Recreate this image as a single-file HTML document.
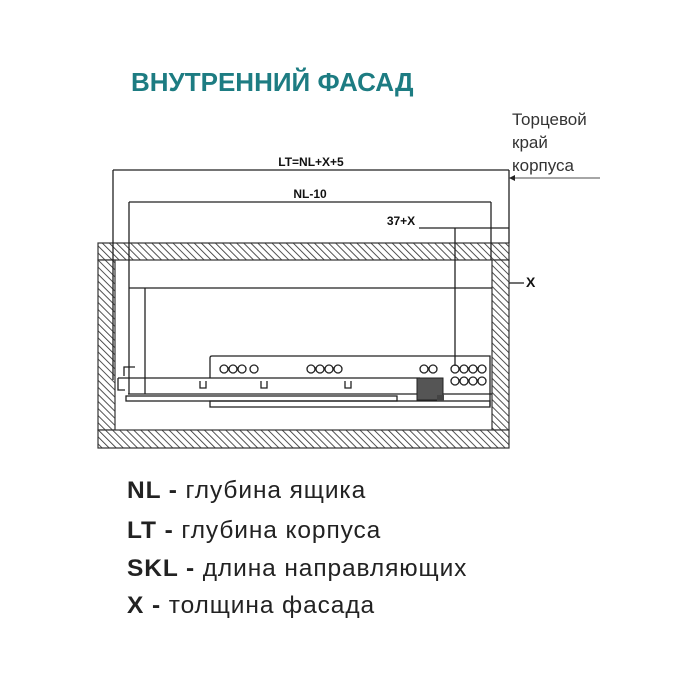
<!DOCTYPE html>
<html><head><meta charset="utf-8"><style>
body{margin:0;background:#fff;width:700px;height:700px;overflow:hidden}
svg{display:block}
</style></head><body>
<svg width="700" height="700" viewBox="0 0 700 700" xmlns="http://www.w3.org/2000/svg" font-family="Liberation Sans, sans-serif">
<defs>
<pattern id="h" width="5" height="5" patternUnits="userSpaceOnUse" patternTransform="rotate(-45)">
<rect width="5" height="5" fill="#fff"/><line x1="0" y1="0" x2="0" y2="5" stroke="#333" stroke-width="1.7"/>
</pattern>
</defs>
<text x="131" y="91" font-size="26" font-weight="bold" fill="#1d7c82">ВНУТРЕННИЙ ФАСАД</text>
<g font-size="17" fill="#333">
<text x="512" y="125">Торцевой</text><text x="512" y="148">край</text><text x="512" y="171">корпуса</text>
</g>
<line x1="511" y1="178" x2="600" y2="178" stroke="#888" stroke-width="1.5"/>
<path d="M509 178 l6 -3 v6z" fill="#222"/>
<g stroke="#333" stroke-width="1.2" fill="url(#h)">
<rect x="98" y="243" width="411" height="17"/>
<rect x="98" y="260" width="17" height="170"/>
<rect x="492" y="260" width="17" height="170"/>
<rect x="98" y="430" width="411" height="18"/>
</g>
<g stroke="#222" stroke-width="1.3" fill="none">
<line x1="113" y1="170" x2="509" y2="170"/>
<line x1="113" y1="170" x2="113" y2="380"/>
<line x1="509" y1="170" x2="509" y2="243"/>
<line x1="129" y1="202" x2="491" y2="202"/>
<line x1="129" y1="202" x2="129" y2="394"/>
<line x1="491" y1="202" x2="491" y2="260"/>
<line x1="419" y1="228" x2="509" y2="228"/>
<line x1="455" y1="228" x2="455" y2="366"/>
<line x1="129" y1="288" x2="492" y2="288"/>
<line x1="145" y1="288" x2="145" y2="394"/>
<line x1="509" y1="283" x2="524" y2="283"/>
<path d="M210 378 V358 Q210 356 212 356 H490 V406"/>
<line x1="118" y1="378" x2="420" y2="378"/>
<line x1="128" y1="394" x2="492" y2="394"/>
<rect x="126" y="396" width="271" height="5"/>
<rect x="210" y="401" width="280" height="6"/>
<path d="M118 378 V390 H125 M124 376 V367 H135"/>
<path d="M200 381 v7 h6 v-7 M261 381 v7 h6 v-7 M345 381 v7 h6 v-7"/>
</g>
<g stroke="#222" stroke-width="1.3" fill="none">
<circle cx="224" cy="369" r="4"/><circle cx="233" cy="369" r="4"/><circle cx="242" cy="369" r="4"/><circle cx="254" cy="369" r="4"/>
<circle cx="311" cy="369" r="4"/><circle cx="320" cy="369" r="4"/><circle cx="329" cy="369" r="4"/><circle cx="338" cy="369" r="4"/>
<circle cx="424" cy="369" r="4"/><circle cx="433" cy="369" r="4"/>
<circle cx="455" cy="369" r="4"/><circle cx="464" cy="369" r="4"/><circle cx="473" cy="369" r="4"/><circle cx="482" cy="369" r="4"/>
<circle cx="455" cy="381" r="4"/><circle cx="464" cy="381" r="4"/><circle cx="473" cy="381" r="4"/><circle cx="482" cy="381" r="4"/>
</g>
<rect x="417" y="378" width="26" height="22" fill="#555" stroke="#222"/>
<rect x="437" y="395" width="7" height="6" fill="#444"/>
<g font-size="12" font-weight="bold" fill="#111">
<text x="311" y="166" text-anchor="middle">LT=NL+X+5</text>
<text x="310" y="198" text-anchor="middle">NL-10</text>
<text x="401" y="225" text-anchor="middle">37+X</text>
<text x="526" y="287" font-size="14">X</text>
</g>
<g font-size="24.5" fill="#222" letter-spacing="0.9">
<text x="127" y="498"><tspan font-weight="bold">NL -</tspan> глубина ящика</text>
<text x="127" y="538"><tspan font-weight="bold">LT -</tspan> глубина корпуса</text>
<text x="127" y="576"><tspan font-weight="bold">SKL -</tspan> длина направляющих</text>
<text x="127" y="613"><tspan font-weight="bold">X -</tspan> толщина фасада</text>
</g>
</svg>
</body></html>
